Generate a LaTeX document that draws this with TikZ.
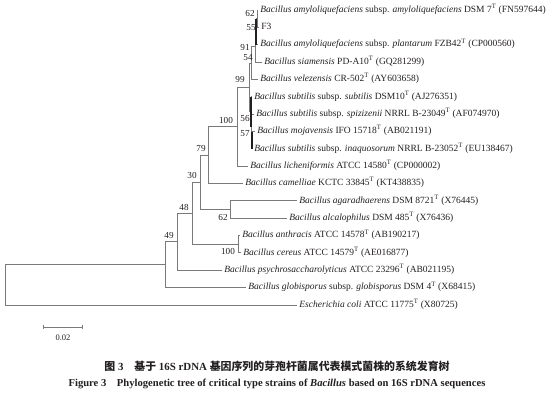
\documentclass[tikz,border=0pt]{standalone}
\usepackage{fontspec}
\setmainfont{Liberation Serif}
\newfontfamily\cjk{Noto Sans CJK SC}
\usetikzlibrary{arrows.meta, positioning}
\definecolor{treeGrey}{HTML}{7A7A7A}
\definecolor{inkBlack}{HTML}{231F20}
\newcommand{\bac}[1]{\textit{Bacillus #1}}
\newcommand{\tst}{\textsuperscript{T}}
\tikzset{
  branch/.style   = {treeGrey, line width=0.9pt},
  dense/.style    = {inkBlack, line width=1.4pt},
  taxon/.style    = {anchor=west, inner xsep=2.2pt, inner ysep=0pt, text=inkBlack,
                     font=\fontsize{9.5}{11}\selectfont, text height=6.5pt, text depth=2pt},
  boot/.style     = {inner sep=0pt, text=inkBlack, font=\fontsize{9.2}{10}\selectfont},
  scalebar/.style = {{Bar[width=4pt]}-{Bar[width=4pt]}, treeGrey, line width=0.8pt},
  caption/.style  = {inner sep=0pt, text=inkBlack},
}

\begin{document}
\begin{tikzpicture}[x=1pt,y=-1pt]
  \useasboundingbox (0,0) rectangle (554,397);
  % taxa
  \node[taxon] (amyDSM) at (258,10.0)  {\bac{amyloliquefaciens} subsp. \textit{amyloliquefaciens} DSM 7\tst{} (FN597644)};
  \node[taxon] (strF3)  at (259,27.4)  {F3};
  \node[taxon] (amyFZB) at (258,44.7)  {\bac{amyloliquefaciens} subsp. \textit{plantarum} FZB42\tst{} (CP000560)};
  \node[taxon] (siam)   at (262,62.1)  {\bac{siamensis} PD-A10\tst{} (GQ281299)};
  \node[taxon] (velez)  at (258,79.4)  {\bac{velezensis} CR-502\tst{} (AY603658)};
  \node[taxon] (subS)   at (252,96.8)  {\bac{subtilis} subsp. \textit{subtilis} DSM10\tst{} (AJ276351)};
  \node[taxon] (subSp)  at (254,114.1) {\bac{subtilis} subsp. \textit{spizizenii} NRRL B-23049\tst{} (AF074970)};
  \node[taxon] (mojav)  at (255,131.5) {\bac{mojavensis} IFO 15718\tst{} (AB021191)};
  \node[taxon] (subIn)  at (252,148.8) {\bac{subtilis} subsp. \textit{inaquosorum} NRRL B-23052\tst{} (EU138467)};
  \node[taxon] (lichen) at (248,166.2) {\bac{licheniformis} ATCC 14580\tst{} (CP000002)};
  \node[taxon] (camel)  at (243,183.5) {\bac{camelliae} KCTC 33845\tst{} (KT438835)};
  \node[taxon] (agara)  at (297,200.9) {\bac{agaradhaerens} DSM 8721\tst{} (X76445)};
  \node[taxon] (alcal)  at (287,218.2) {\bac{alcalophilus} DSM 485\tst{} (X76436)};
  \node[taxon] (anthr)  at (240,235.6) {\bac{anthracis} ATCC 14578\tst{} (AB190217)};
  \node[taxon] (cereus) at (241,252.9) {\bac{cereus} ATCC 14579\tst{} (AE016877)};
  \node[taxon] (psych)  at (222,270.3) {\bac{psychrosaccharolyticus} ATCC 23296\tst{} (AB021195)};
  \node[taxon] (globi)  at (246,287.6) {\bac{globisporus} subsp. \textit{globisporus} DSM 4\tst{} (X68415)};
  \node[taxon] (ecoli)  at (297,305.0) {\textit{Escherichia coli} ATCC 11775\tst{} (X80725)};

  % internal nodes
  \coordinate (nA62)  at (257,18.7);
  \coordinate (nA55)  at (256,31.7);
  \coordinate (nA91)  at (255,46.9);
  \coordinate (nA54)  at (251,63.2);
  \coordinate (nS57)  at (252,140.1);
  \coordinate (nS56)  at (251.5,127.1);
  \coordinate (nSub)  at (251,111.9);
  \coordinate (n99)   at (249,87.5);
  \coordinate (n100a) at (237,126.8);
  \coordinate (n79)   at (208,155.2);
  \coordinate (n62)   at (230,209.5);
  \coordinate (n30)   at (200,182.4);
  \coordinate (n100b) at (238,244.2);
  \coordinate (n48)   at (192,213.3);
  \coordinate (n49)   at (177,241.8);
  \coordinate (nGlob) at (165,264.7);
  \coordinate (root)  at (5,284.8);

  % branches
  \draw[branch] (nA62) |- (amyDSM.west)  (nA62) |- (strF3.west);
  \draw[branch] (nA55) |- (nA62)         (nA55) |- (amyFZB.west);
  \draw[branch] (nA91) |- (nA55)         (nA91) |- (siam.west);
  \draw[branch] (nA54) |- (nA91)         (nA54) |- (velez.west);
  \draw[branch] (nS57) |- (mojav.west)   (nS57) |- (subIn.west);
  \draw[branch] (nS56) |- (subSp.west)   (nS56) |- (nS57);
  \draw[branch] (nSub) |- (subS.west)    (nSub) |- (nS56);
  \draw[branch] (n99) |- (nA54)          (n99) |- (nSub);
  \draw[branch] (n100a) |- (n99)         (n100a) |- (lichen.west);
  \draw[branch] (n79) |- (n100a)         (n79) |- (camel.west);
  \draw[branch] (n62) |- (agara.west)    (n62) |- (alcal.west);
  \draw[branch] (n30) |- (n79)           (n30) |- (n62);
  \draw[branch] (n100b) |- (anthr.west)  (n100b) |- (cereus.west);
  \draw[branch] (n48) |- (n30)           (n48) |- (n100b);
  \draw[branch] (n49) |- (n48)           (n49) |- (psych.west);
  \draw[branch] (nGlob) |- (n49)         (nGlob) |- (globi.west);
  \draw[branch] (root) |- (nGlob)        (root) |- (ecoli.west);
  % near-zero branches overprint to dark bars
  \draw[dense] (nA55 |- nA62) -- (nA55 |- amyFZB.west);
  \draw[dense] (nSub |- subS.west) -- (nSub |- nS56);
  \draw[dense] (nS57 |- mojav.west) -- (nS57 |- subIn.west);

  % bootstrap values
  \node[boot] (bsA62)  at (250,13)  {62};
  \node[boot] (bsA55)  at (251,28)  {55};
  \node[boot] (bsA91)  at (245,47)  {91};
  \node[boot] (bsA54)  at (248,58)  {54};
  \node[boot] (bs99)   at (240,79)  {99};
  \node[boot] (bs100a) at (226,120) {100};
  \node[boot] (bsS56)  at (245,118) {56};
  \node[boot] (bsS57)  at (245,134) {57};
  \node[boot] (bs79)   at (201,148) {79};
  \node[boot] (bs30)   at (192,175) {30};
  \node[boot] (bs62)   at (223,217) {62};
  \node[boot] (bs48)   at (184,207) {48};
  \node[boot] (bs100b) at (228,251) {100};
  \node[boot] (bs49)   at (169,235) {49};

  % scale bar
  \coordinate (barL) at (43,327);
  \coordinate (barR) at (83,327);
  \draw[scalebar] (barL) -- (barR);
  \node[boot, font=\fontsize{8.5}{9}\selectfont] (barLbl) at (63,338) {0.02};

  % captions
  \node[caption] (capZh) at (277,366) {\fontsize{10.9}{13}\selectfont\bfseries{\cjk 图} 3\quad{\cjk 基于} 16S rDNA {\cjk 基因序列的芽孢杆菌属代表模式菌株的系统发育树}};
  \node[caption] (capEn) at (277,384) {\fontsize{10.6}{12}\selectfont\bfseries Figure 3\quad Phylogenetic tree of critical type strains of \textit{Bacillus} based on 16S rDNA sequences};
\end{tikzpicture}
\end{document}
